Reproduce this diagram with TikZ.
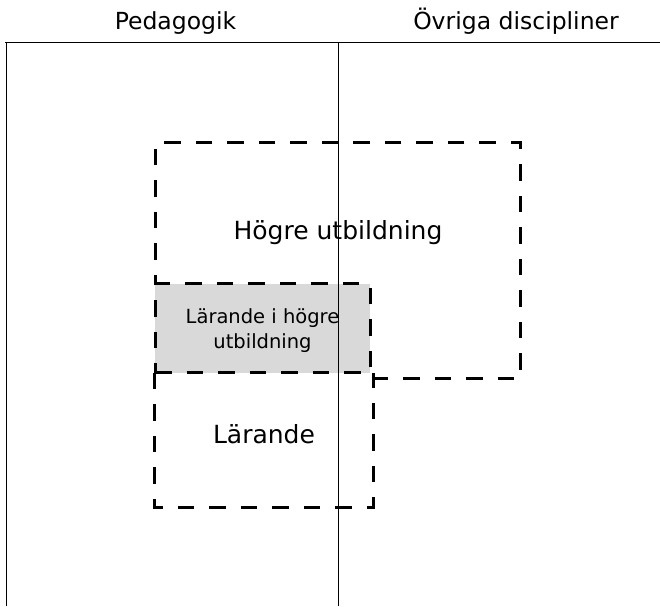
\documentclass[tikz,border=0pt]{standalone}
\usepackage{fontspec}
\setmainfont{DejaVu Sans}
\begin{document}
\begin{tikzpicture}[x=1pt,y=-1pt,
  frame/.style={draw=black,line width=1pt},
  dashline/.style={draw=black,line width=3pt,dash pattern=on 16.5pt off 15pt},
  dbox/.style={dashline,rectangle,inner sep=0pt},
  area/.style={rectangle,inner sep=0pt},
  head/.style={font=\fontsize{23.5}{28}\selectfont,inner sep=0pt,anchor=base},
  big/.style={font=\fontsize{25}{30}\selectfont,inner sep=0pt,anchor=base},
  small/.style={font=\fontsize{19.5}{25}\selectfont,inner sep=0pt,align=center}]
\useasboundingbox (0,0) rectangle (660,606);
% gray region
\node[area,fill=black!15,minimum width=215pt,minimum height=89pt] (grayfill) at (262.5,328.3) {};
% labels
\node[small] (lihu) at (262.5,330.7) {Lärande i högre\\utbildning};
\node[big] (hu) at (338,239.3) {Högre utbildning};
\node[big] (lar) at (264,443.3) {Lärande};
\node[head] (ped) at (175.5,29.3) {Pedagogik};
\node[head] (ovr) at (516,29.3) {Övriga discipliner};
% frame
\coordinate (tl) at (5,42);
\coordinate (tr) at (660,42);
\coordinate (ltop) at (6,42);
\coordinate (bl) at (6,606);
\coordinate (tm) at (338.3,42);
\coordinate (bm) at (338.3,606);
\draw[frame] (tr) -- (tl);
\draw[frame] (ltop) -- (bl);
\draw[frame] (tm) -- (bm);
% dashed boxes
\node[dbox,minimum width=215pt,minimum height=89pt] (lihubox) at (262.5,328.3) {};
\node[area,minimum width=365pt,minimum height=235pt] (hubox) at (338,260.3) {};
\draw[dashline] (lihubox.east |- hubox.south) -- (hubox.south east) -- (hubox.north east) -- (hubox.north west) -- (hubox.west |- lihubox.north);
\node[area,minimum width=218pt,minimum height=134pt] (larbox) at (264,440) {};
\draw[dashline] (larbox.north west) -- (larbox.south west) -- (larbox.south east) -- (larbox.north east);
\end{tikzpicture}
\end{document}
